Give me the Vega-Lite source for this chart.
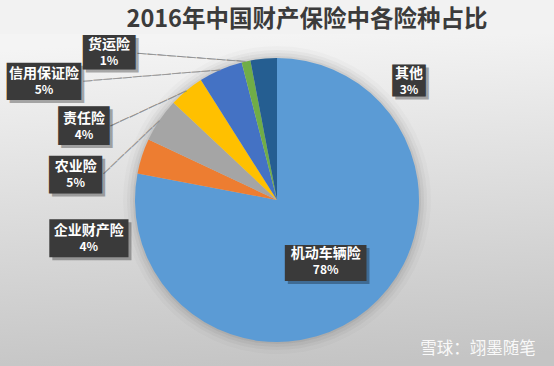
{
  "$schema": "https://vega.github.io/schema/vega-lite/v6.json",
  "width": 554,
  "height": 332,
  "autosize": {"type": "none"},
  "padding": {"top": 34, "left": 0, "right": 0, "bottom": 0},
  "background": "#f2f2f2",
  "view": {
    "stroke": null,
    "fill": {
      "gradient": "linear",
      "x1": 0.5, "y1": 0, "x2": 0.6, "y2": 1,
      "stops": [
        {"offset": 0, "color": "#f4f4f4"},
        {"offset": 1, "color": "#c4c4c4"}
      ]
    }
  },
  "title": {
    "text": "2016年中国财产保险中各险种占比",
    "font": "Noto Sans CJK SC",
    "fontWeight": "bold",
    "fontSize": 23.5,
    "color": "#3b3b3b",
    "anchor": "middle",
    "dx": 30,
    "offset": 3
  },
  "data": {
    "values": [
      {"name": "机动车辆险", "pct": 78, "order": 1},
      {"name": "企业财产险", "pct": 4, "order": 2},
      {"name": "农业险", "pct": 5, "order": 3},
      {"name": "责任险", "pct": 4, "order": 4},
      {"name": "信用保证险", "pct": 5, "order": 5},
      {"name": "货运险", "pct": 1, "order": 6},
      {"name": "其他", "pct": 3, "order": 7}
    ]
  },
  "layer": [
    {
      "mark": {"type": "arc", "outerRadius": 154, "fill": "#000000", "opacity": 0.02},
      "encoding": {"theta": {"field": "pct", "type": "quantitative", "stack": true}, "order": {"field": "order", "type": "quantitative"}}
    },
    {
      "mark": {"type": "arc", "outerRadius": 150, "fill": "#000000", "opacity": 0.03},
      "encoding": {"theta": {"field": "pct", "type": "quantitative", "stack": true}, "order": {"field": "order", "type": "quantitative"}}
    },
    {
      "mark": {"type": "arc", "outerRadius": 147, "fill": "#000000", "opacity": 0.04},
      "encoding": {"theta": {"field": "pct", "type": "quantitative", "stack": true}, "order": {"field": "order", "type": "quantitative"}}
    },
    {
      "mark": {"type": "arc", "outerRadius": 144, "fill": "#000000", "opacity": 0.05},
      "encoding": {"theta": {"field": "pct", "type": "quantitative", "stack": true}, "order": {"field": "order", "type": "quantitative"}}
    },
    {
      "mark": {"type": "arc", "outerRadius": 142},
      "encoding": {
        "theta": {"field": "pct", "type": "quantitative", "stack": true},
        "order": {"field": "order", "type": "quantitative"},
        "color": {
          "field": "name",
          "type": "nominal",
          "scale": {
            "domain": ["机动车辆险", "企业财产险", "农业险", "责任险", "信用保证险", "货运险", "其他"],
            "range": ["#5B9BD5", "#ED7D31", "#A5A5A5", "#FFC000", "#4472C4", "#70AD47", "#255E91"]
          },
          "legend": null
        }
      }
    },
    {
      "transform": [
        {"stack": "pct", "groupby": [], "sort": [{"field": "order", "order": "ascending"}], "as": ["s0", "s1"]},
        {"calculate": "(datum.s0 + datum.s1) / 2", "as": "mid"},
        {"calculate": "datum.pct + '%'", "as": "plabel"}
      ],
      "encoding": {
        "theta": {"field": "mid", "type": "quantitative", "stack": null},
        "radius": {"value": 160}
      },
      "layer": [
        {
          "transform": [{"filter": "datum.name === '机动车辆险'"}],
          "encoding": {"radius": {"value": 78}},
          "layer": [
            {"mark": {"type": "text", "text": "—", "font": "DejaVu Sans", "fontSize": 54.8, "strokeWidth": 32.2, "fill": "#000000", "stroke": "#000000", "opacity": 0.3, "strokeJoin": "miter", "strokeMiterLimit": 10, "align": "center", "baseline": "alphabetic", "dx": 2, "dy": 20.6}},
            {"mark": {"type": "text", "text": "—", "font": "DejaVu Sans", "fontSize": 54.8, "strokeWidth": 32.2, "fill": "#3a3a3a", "stroke": "#3a3a3a", "strokeJoin": "miter", "strokeMiterLimit": 10, "align": "center", "baseline": "alphabetic", "dx": -1, "dy": 17.6}},
            {"mark": {"type": "text", "font": "Noto Sans CJK SC", "fontWeight": "bold", "fontSize": 14, "fill": "#ffffff", "align": "center", "baseline": "middle", "dx": -1, "dy": -6}, "encoding": {"text": {"field": "name"}}},
            {"mark": {"type": "text", "font": "Noto Sans CJK SC", "fontWeight": "bold", "fontSize": 12, "fill": "#ffffff", "align": "center", "baseline": "middle", "dx": -1, "dy": 10}, "encoding": {"text": {"field": "plabel"}}}
          ]
        },
        {
          "transform": [{"filter": "datum.name === '企业财产险'"}],
          "layer": [
            {"mark": {"type": "text", "text": "—", "font": "DejaVu Sans", "fontSize": 49.3, "strokeWidth": 34.7, "fill": "#000000", "stroke": "#000000", "opacity": 0.3, "strokeJoin": "miter", "strokeMiterLimit": 10, "align": "center", "baseline": "alphabetic", "dx": -33, "dy": 104.9}},
            {"mark": {"type": "text", "text": "—", "font": "DejaVu Sans", "fontSize": 49.3, "strokeWidth": 34.7, "fill": "#3a3a3a", "stroke": "#3a3a3a", "strokeJoin": "miter", "strokeMiterLimit": 10, "align": "center", "baseline": "alphabetic", "dx": -36, "dy": 101.9}},
            {"mark": {"type": "text", "font": "Noto Sans CJK SC", "fontWeight": "bold", "fontSize": 14, "fill": "#ffffff", "align": "center", "baseline": "middle", "dx": -36, "dy": 80}, "encoding": {"text": {"field": "name"}}},
            {"mark": {"type": "text", "font": "Noto Sans CJK SC", "fontWeight": "bold", "fontSize": 12, "fill": "#ffffff", "align": "center", "baseline": "middle", "dx": -36, "dy": 96}, "encoding": {"text": {"field": "plabel"}}}
          ]
        },
        {
          "transform": [{"filter": "datum.name === '农业险'"}],
          "layer": [
            {"mark": {"type": "text", "text": "————————", "font": "DejaVu Sans", "fontSize": 9.76, "fill": "#8c8c8c", "stroke": "#8c8c8c", "strokeWidth": 0.3, "align": "center", "baseline": "alphabetic", "angle": -43.5, "dx": -39.05, "dy": 2.88}, "encoding": {"radius": {"value": 142}}},
            {"mark": {"type": "text", "text": "—", "font": "DejaVu Sans", "fontSize": 18.6, "strokeWidth": 36.4, "fill": "#000000", "stroke": "#000000", "opacity": 0.3, "strokeJoin": "miter", "strokeMiterLimit": 10, "align": "center", "baseline": "alphabetic", "dx": -66, "dy": 72.5}},
            {"mark": {"type": "text", "text": "—", "font": "DejaVu Sans", "fontSize": 18.6, "strokeWidth": 36.4, "fill": "#3a3a3a", "stroke": "#3a3a3a", "strokeJoin": "miter", "strokeMiterLimit": 10, "align": "center", "baseline": "alphabetic", "dx": -69, "dy": 69.5}},
            {"mark": {"type": "text", "font": "Noto Sans CJK SC", "fontWeight": "bold", "fontSize": 14, "fill": "#ffffff", "align": "center", "baseline": "middle", "dx": -69, "dy": 57}, "encoding": {"text": {"field": "name"}}},
            {"mark": {"type": "text", "font": "Noto Sans CJK SC", "fontWeight": "bold", "fontSize": 12, "fill": "#ffffff", "align": "center", "baseline": "middle", "dx": -69, "dy": 73}, "encoding": {"text": {"field": "plabel"}}}
          ]
        },
        {
          "transform": [{"filter": "datum.name === '责任险'"}],
          "layer": [
            {"mark": {"type": "text", "text": "————————", "font": "DejaVu Sans", "fontSize": 10.54, "fill": "#8c8c8c", "stroke": "#8c8c8c", "strokeWidth": 0.3, "align": "center", "baseline": "alphabetic", "angle": -24.8, "dx": -42.15, "dy": 3.11}, "encoding": {"radius": {"value": 142}}},
            {"mark": {"type": "text", "text": "—", "font": "DejaVu Sans", "fontSize": 15.3, "strokeWidth": 37.7, "fill": "#000000", "stroke": "#000000", "opacity": 0.3, "strokeJoin": "miter", "strokeMiterLimit": 10, "align": "center", "baseline": "alphabetic", "dx": -88, "dy": 56.5}},
            {"mark": {"type": "text", "text": "—", "font": "DejaVu Sans", "fontSize": 15.3, "strokeWidth": 37.7, "fill": "#3a3a3a", "stroke": "#3a3a3a", "strokeJoin": "miter", "strokeMiterLimit": 10, "align": "center", "baseline": "alphabetic", "dx": -91, "dy": 53.5}},
            {"mark": {"type": "text", "font": "Noto Sans CJK SC", "fontWeight": "bold", "fontSize": 14, "fill": "#ffffff", "align": "center", "baseline": "middle", "dx": -91, "dy": 42}, "encoding": {"text": {"field": "name"}}},
            {"mark": {"type": "text", "font": "Noto Sans CJK SC", "fontWeight": "bold", "fontSize": 12, "fill": "#ffffff", "align": "center", "baseline": "middle", "dx": -91, "dy": 58}, "encoding": {"text": {"field": "plabel"}}}
          ]
        },
        {
          "transform": [{"filter": "datum.name === '信用保证险'"}],
          "layer": [
            {"mark": {"type": "text", "text": "——————————————", "font": "DejaVu Sans", "fontSize": 9.86, "fill": "#8c8c8c", "stroke": "#8c8c8c", "strokeWidth": 0.3, "align": "center", "baseline": "alphabetic", "angle": -4.7, "dx": -69.05, "dy": 2.91}, "encoding": {"radius": {"value": 142}}},
            {"mark": {"type": "text", "text": "—", "font": "DejaVu Sans", "fontSize": 44.9, "strokeWidth": 34.1, "fill": "#000000", "stroke": "#000000", "opacity": 0.3, "strokeJoin": "miter", "strokeMiterLimit": 10, "align": "center", "baseline": "alphabetic", "dx": -166.5, "dy": 44.2}},
            {"mark": {"type": "text", "text": "—", "font": "DejaVu Sans", "fontSize": 44.9, "strokeWidth": 34.1, "fill": "#3a3a3a", "stroke": "#3a3a3a", "strokeJoin": "miter", "strokeMiterLimit": 10, "align": "center", "baseline": "alphabetic", "dx": -169.5, "dy": 41.2}},
            {"mark": {"type": "text", "font": "Noto Sans CJK SC", "fontWeight": "bold", "fontSize": 14, "fill": "#ffffff", "align": "center", "baseline": "middle", "dx": -169.5, "dy": 21}, "encoding": {"text": {"field": "name"}}},
            {"mark": {"type": "text", "font": "Noto Sans CJK SC", "fontWeight": "bold", "fontSize": 12, "fill": "#ffffff", "align": "center", "baseline": "middle", "dx": -169.5, "dy": 37}, "encoding": {"text": {"field": "plabel"}}}
          ]
        },
        {
          "transform": [{"filter": "datum.name === '货运险'"}],
          "layer": [
            {"mark": {"type": "text", "text": "———————————", "font": "DejaVu Sans", "fontSize": 9.94, "fill": "#8c8c8c", "stroke": "#8c8c8c", "strokeWidth": 0.3, "align": "center", "baseline": "alphabetic", "angle": 4.4, "dx": -54.65, "dy": 2.93}, "encoding": {"radius": {"value": 142}}},
            {"mark": {"type": "text", "text": "—", "font": "DejaVu Sans", "fontSize": 21.9, "strokeWidth": 33.1, "fill": "#000000", "stroke": "#000000", "opacity": 0.3, "strokeJoin": "miter", "strokeMiterLimit": 10, "align": "center", "baseline": "alphabetic", "dx": -130, "dy": 17.5}},
            {"mark": {"type": "text", "text": "—", "font": "DejaVu Sans", "fontSize": 21.9, "strokeWidth": 33.1, "fill": "#3a3a3a", "stroke": "#3a3a3a", "strokeJoin": "miter", "strokeMiterLimit": 10, "align": "center", "baseline": "alphabetic", "dx": -133, "dy": 14.5}},
            {"mark": {"type": "text", "font": "Noto Sans CJK SC", "fontWeight": "bold", "fontSize": 14, "fill": "#ffffff", "align": "center", "baseline": "middle", "dx": -133, "dy": 1}, "encoding": {"text": {"field": "name"}}},
            {"mark": {"type": "text", "font": "Noto Sans CJK SC", "fontWeight": "bold", "fontSize": 12, "fill": "#ffffff", "align": "center", "baseline": "middle", "dx": -133, "dy": 17}, "encoding": {"text": {"field": "plabel"}}}
          ]
        },
        {
          "transform": [{"filter": "datum.name === '其他'"}],
          "layer": [
            {"mark": {"type": "text", "text": "—", "font": "DejaVu Sans", "fontSize": 2, "strokeWidth": 31.8, "fill": "#000000", "stroke": "#000000", "opacity": 0.3, "strokeJoin": "miter", "strokeMiterLimit": 10, "align": "center", "baseline": "alphabetic", "dx": 150, "dy": 43.6}},
            {"mark": {"type": "text", "text": "—", "font": "DejaVu Sans", "fontSize": 2, "strokeWidth": 31.8, "fill": "#3a3a3a", "stroke": "#3a3a3a", "strokeJoin": "miter", "strokeMiterLimit": 10, "align": "center", "baseline": "alphabetic", "dx": 147, "dy": 40.6}},
            {"mark": {"type": "text", "font": "Noto Sans CJK SC", "fontWeight": "bold", "fontSize": 14, "fill": "#ffffff", "align": "center", "baseline": "middle", "dx": 147, "dy": 33}, "encoding": {"text": {"field": "name"}}},
            {"mark": {"type": "text", "font": "Noto Sans CJK SC", "fontWeight": "bold", "fontSize": 12, "fill": "#ffffff", "align": "center", "baseline": "middle", "dx": 147, "dy": 49}, "encoding": {"text": {"field": "plabel"}}}
          ]
        }
      ]
    },
    {
      "data": {"values": [{"wm": "雪球：翊墨随笔"}]},
      "mark": {"type": "text", "font": "Noto Sans CJK SC", "fontSize": 16.5, "fill": "#ffffff", "opacity": 0.9, "baseline": "middle", "align": "center", "dx": 201, "dy": 149},
      "encoding": {"text": {"field": "wm", "type": "nominal"}}
    }
  ],
  "config": {
    "view": {"stroke": null}
  }
}
